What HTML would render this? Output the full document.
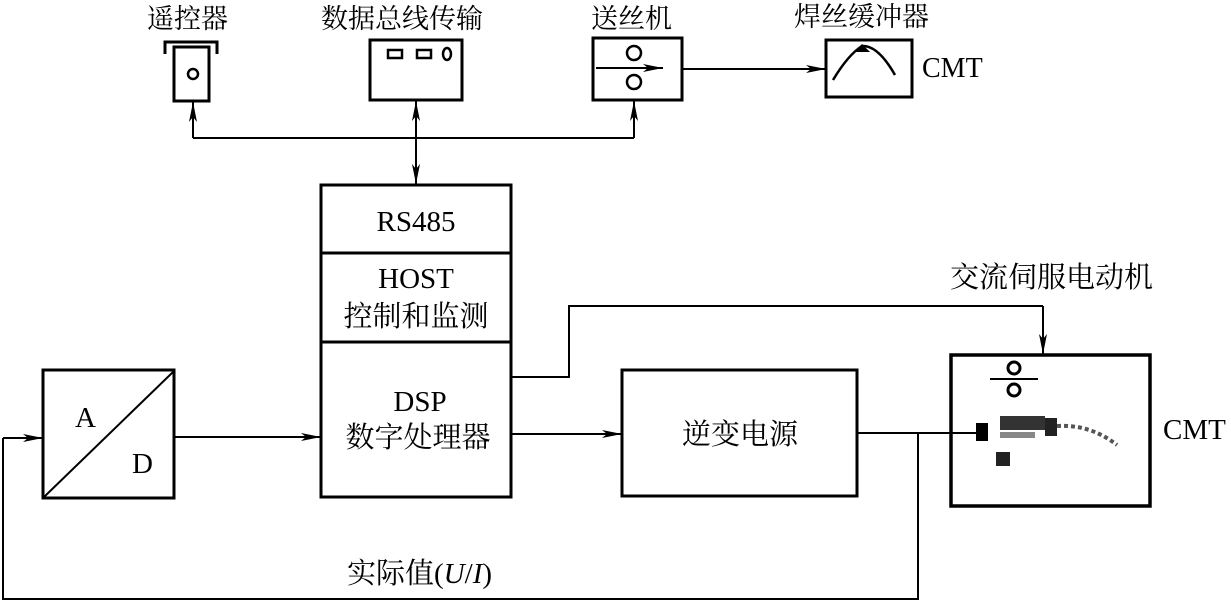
<!DOCTYPE html>
<html><head><meta charset="utf-8"><style>
html,body{margin:0;padding:0;background:#fff;}
svg{display:block;}
text{font-family:"Liberation Serif","Noto Serif CJK SC","Noto Sans CJK SC",serif;fill:#000;}
</style></head><body>
<svg width="1231" height="601" viewBox="0 0 1231 601" xmlns="http://www.w3.org/2000/svg">
<defs>
<marker id="a" viewBox="0 0 20 10" refX="20" refY="5" markerWidth="20" markerHeight="10" markerUnits="userSpaceOnUse" orient="auto-start-reverse">
<path d="M0,1 L20,5 L0,9 L5,5 z" fill="#000"/></marker>
</defs>
<g font-size="27">
<text x="147" y="28">遥控器</text>
<text x="321" y="28">数据总线传输</text>
<text x="591" y="28">送丝机</text>
<text x="794" y="26">焊丝缓冲器</text>
</g>
<text x="922" y="77" font-size="28">CMT</text>
<g fill="none" stroke="#000" stroke-width="3">
<path d="M165,54 V42 H217 V54"/>
<rect x="174" y="47" width="35" height="54"/>
<circle cx="193" cy="74" r="5" stroke-width="2.5"/>
<rect x="370" y="40" width="92" height="60"/>
<rect x="388" y="50" width="14" height="8" stroke-width="2.5"/>
<rect x="417" y="50" width="14" height="8" stroke-width="2.5"/>
<ellipse cx="447" cy="54" rx="4" ry="6" stroke-width="2.5"/>
<rect x="593" y="38" width="89" height="62"/>
<circle cx="634" cy="53" r="7" stroke-width="2.5"/>
<circle cx="634" cy="82" r="7" stroke-width="2.5"/>
<rect x="826" y="40" width="86" height="57"/>
<path d="M833,80 Q848,55 862,46 Q878,45 895,75" stroke-width="2.5"/>
<rect x="321" y="185" width="190" height="312"/>
<line x1="321" y1="253" x2="511" y2="253"/>
<line x1="321" y1="342" x2="511" y2="342"/>
<rect x="43" y="370" width="131" height="128"/>
<line x1="44" y1="497" x2="173" y2="372" stroke-width="2"/>
<rect x="622" y="370" width="235" height="126"/>
<rect x="951" y="355" width="199" height="151" stroke-width="3.5"/>
<line x1="990" y1="379" x2="1038" y2="379" stroke-width="2"/>
<circle cx="1014" cy="368" r="6" stroke-width="3"/>
<circle cx="1014" cy="390" r="6" stroke-width="3"/>
</g>
<path d="M862,44 l-8,8 h16 z" fill="#000"/>
<rect x="976" y="423" width="12" height="18" fill="#000"/>
<rect x="1000" y="416" width="45" height="14" fill="#333"/>
<rect x="1045" y="418" width="12" height="18" fill="#222"/>
<path d="M1057,426 Q1090,424 1117,445" stroke="#555" stroke-width="4" fill="none" stroke-dasharray="4 3"/>
<rect x="996" y="452" width="14" height="14" fill="#222"/>
<rect x="1000" y="432" width="35" height="6" fill="#888"/>
<g fill="none" stroke="#000" stroke-width="2">
<line x1="596" y1="68" x2="663" y2="68" marker-end="url(#a)"/>
<line x1="682" y1="69" x2="826" y2="69" marker-end="url(#a)"/>
<path d="M193,138 H634"/>
<line x1="193" y1="138" x2="193" y2="102" marker-end="url(#a)"/>
<line x1="634" y1="138" x2="634" y2="101" marker-end="url(#a)"/>
<line x1="416" y1="101" x2="416" y2="184" marker-start="url(#a)" marker-end="url(#a)"/>
<line x1="174" y1="437" x2="321" y2="437" marker-end="url(#a)"/>
<line x1="511" y1="434" x2="622" y2="434" marker-end="url(#a)"/>
<path d="M511,377 H569 V306 H1043"/>
<line x1="1043" y1="306" x2="1043" y2="354" marker-end="url(#a)"/>
<path d="M857,433 H976"/>
<path d="M918,433 V599 H3 V438"/>
<line x1="3" y1="438" x2="43" y2="438" marker-end="url(#a)"/>
</g>
<g font-size="29">
<text x="416" y="231" text-anchor="middle">RS485</text>
<text x="416" y="288" text-anchor="middle">HOST</text>
<text x="416" y="326" text-anchor="middle">控制和监测</text>
<text x="420" y="411" text-anchor="middle">DSP</text>
<text x="418" y="447" text-anchor="middle">数字处理器</text>
<text x="75" y="427">A</text>
<text x="132" y="473">D</text>
<text x="740" y="444" text-anchor="middle">逆变电源</text>
<text x="950" y="287">交流伺服电动机</text>
<text x="1163" y="439">CMT</text>
<text x="347" y="583">实际值(<tspan font-style="italic">U</tspan>/<tspan font-style="italic">I</tspan>)</text>
</g>
</svg>
</body></html>
